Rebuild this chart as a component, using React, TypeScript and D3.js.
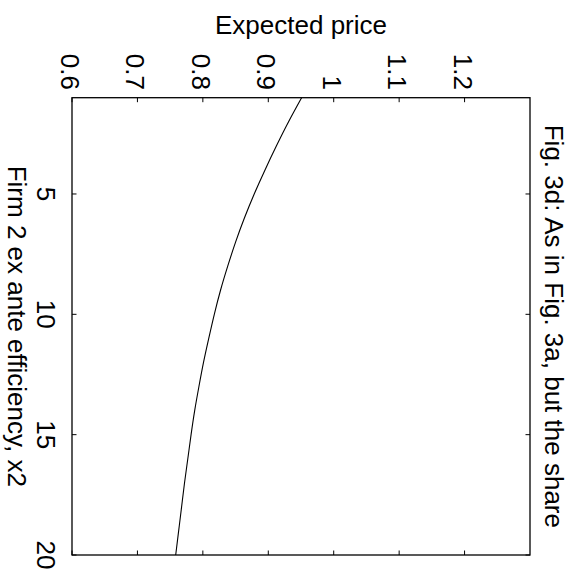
import React from "react";
import * as d3 from "d3";

const efficiency: number[] = [1, 2, 3, 4, 5, 6, 7, 8, 9, 10, 11, 12, 13, 14, 15, 16, 17, 18, 19, 20];
const expectedPrice: number[] = [
  0.951, 0.931, 0.9125, 0.895, 0.8785, 0.8635, 0.85, 0.838, 0.827, 0.8175,
  0.809, 0.801, 0.794, 0.7875, 0.782, 0.777, 0.772, 0.7675, 0.763, 0.7585,
];
const priceTicks: number[] = [0.6, 0.7, 0.8, 0.9, 1, 1.1, 1.2];
const effTicks: number[] = [5, 10, 15, 20];
const titleText = "Fig. 3d: As in Fig. 3a, but the share";
const priceLabel = "Expected price";
const effLabel = "Firm 2 ex ante efficiency, x2";

const W = 579;
const H = 574;
const box = { left: 72, right: 530, top: 97.7, bottom: 555 };
const FONT = "'Liberation Sans', Arial, Helvetica, sans-serif";
const FS = 26;

export default function App() {
  // price runs left->right along the top (rotated chart)
  const px = d3.scaleLinear().domain([0.6, 1.3]).range([box.left, box.right]);
  // efficiency runs top->bottom
  const sy = d3.scaleLinear().domain([1, 20]).range([box.top, box.bottom]);

  const data = efficiency.map((e, i) => ({ e, p: expectedPrice[i] }));
  const line = d3
    .line<{ e: number; p: number }>()
    .x((d) => px(d.p))
    .y((d) => sy(d.e))
    .curve(d3.curveNatural);

  const tl = 4.5;

  return (
    <svg
      width={W}
      height={H}
      style={{ position: "absolute", left: 0, top: 0, background: "#fff" }}
      fontFamily={FONT}
    >
      <rect x={0} y={0} width={W} height={H} fill="#fff" />
      {/* curve */}
      <path d={line(data) || ""} fill="none" stroke="#000" strokeWidth={1.1} />
      {/* price ticks top & bottom */}
      {priceTicks.map((t) => (
        <g key={"pt" + t}>
          <line x1={px(t)} x2={px(t)} y1={box.top} y2={box.top + tl} stroke="#000" strokeWidth={1} />
          <line x1={px(t)} x2={px(t)} y1={box.bottom} y2={box.bottom - tl} stroke="#000" strokeWidth={1} />
          <text
            transform={`translate(${px(t) - 11},90) rotate(90)`}
            textAnchor="end"
            fontSize={FS}
            fill="#000"
          >
            {String(t)}
          </text>
        </g>
      ))}
      {/* efficiency ticks left & right */}
      {effTicks.map((t) => (
        <g key={"et" + t}>
          <line x1={box.left} x2={box.left + tl} y1={sy(t)} y2={sy(t)} stroke="#000" strokeWidth={1} />
          <line x1={box.right} x2={box.right - tl} y1={sy(t)} y2={sy(t)} stroke="#000" strokeWidth={1} />
          <text
            transform={`translate(37,${sy(t)}) rotate(90)`}
            textAnchor="middle"
            fontSize={FS}
            fill="#000"
          >
            {t}
          </text>
        </g>
      ))}
      {/* box */}
      <rect
        x={box.left}
        y={box.top}
        width={box.right - box.left}
        height={box.bottom - box.top}
        fill="none"
        stroke="#000"
        strokeWidth={1.3}
      />
      {/* labels */}
      <text x={(box.left + box.right) / 2} y={34} textAnchor="middle" fontSize={FS} fill="#000">
        {priceLabel}
      </text>
      <text
        transform={`translate(8,${(box.top + box.bottom) / 2}) rotate(90)`}
        textAnchor="middle"
        fontSize={FS}
        fill="#000"
      >
        {effLabel}
      </text>
      <text
        transform={`translate(545,${(box.top + box.bottom) / 2}) rotate(90)`}
        textAnchor="middle"
        fontSize={FS}
        fill="#000"
      >
        {titleText}
      </text>
    </svg>
  );
}
